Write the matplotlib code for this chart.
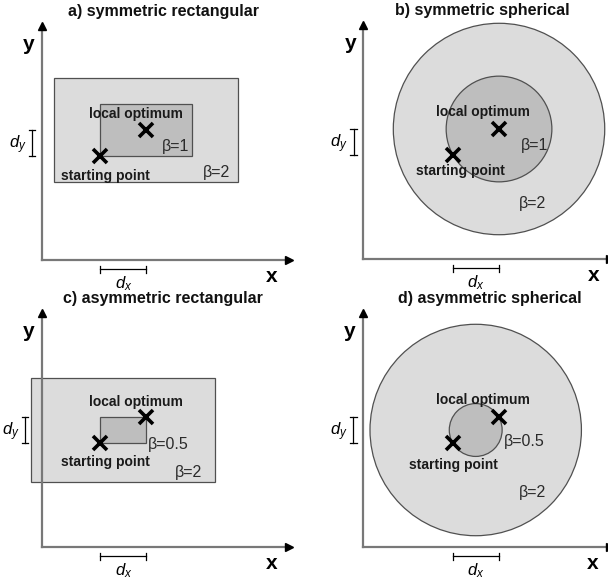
import numpy as np
import matplotlib
matplotlib.use('Agg')
import matplotlib.pyplot as plt
from matplotlib.patches import Rectangle, Circle

plt.rcParams['font.family'] = ['Liberation Sans', 'DejaVu Sans']
plt.rcParams['mathtext.fontset'] = 'custom'
plt.rcParams['mathtext.rm'] = 'Liberation Sans'
plt.rcParams['mathtext.it'] = 'Liberation Sans:italic'

# step sizes (one unit = d_y)
DX = 1.77
DY = 1.0

TITLES = ['a) symmetric rectangular', 'b) symmetric spherical',
          'c) asymmetric rectangular', 'd) asymmetric spherical']
SHAPES = ['rect', 'sphere', 'rect', 'sphere']
SYMMETRIC = [True, True, False, False]
START_X = [2.25, 3.45, 2.25, 3.45]
START_Y = [4.0, 4.0, 4.0, 4.0]
BETA_INNER = [1, 1, 0.5, 0.5]
BETA_OUTER = [2, 2, 2, 2]

# layout: axis origin inside each quadrant (pixels from left / bottom)
ORIGIN_PX = [(41.7, 30), (59.3, 31), (41.7, 33), (59.0, 33)]
QUAD = [(0.0, 0.5), (0.5, 0.5), (0.0, 0.0), (0.5, 0.0)]
UNIT_PX = 26.0
TITLE_X = [4.7, 4.57, 4.67, 4.88]
OPT_LABEL_OFF = [(-0.39, 0.62), (-0.62, 0.65), (-0.39, 0.58), (-0.62, 0.65)]
START_LABEL_OFF = [(0.22, -0.77), (0.27, -0.62), (0.22, -0.73), (0.01, -0.85)]
INNER_LABEL_POS = [(5.13, 4.35), (6.57, 4.35), (4.86, 3.96), (6.19, 4.04)]
OUTER_LABEL_POS = [(6.74, 3.38), (6.5, 2.15), (5.63, 2.88), (6.5, 2.1)]

W, H = 608, 580
fig = plt.figure(figsize=(W / 100, H / 100), dpi=100)

OUTER_FILL = '#dcdcdc'
INNER_FILL = '#bebebe'
EDGE = '#505050'
AXIS_GREY = '#787878'


def make_shape(kind, cx, cy, beta, fill):
    if kind == 'rect':
        hw, hh = beta * DX, beta * DY
        return Rectangle((cx - hw, cy - hh), 2 * hw, 2 * hh, facecolor=fill,
                         edgecolor=EDGE, lw=0.9)
    r = beta * np.hypot(DX, DY)
    return Circle((cx, cy), r, facecolor=fill, edgecolor=EDGE, lw=0.9)


for i in range(4):
    qx, qy = QUAD[i]
    ax = fig.add_axes([qx, qy, 0.5, 0.5])
    ox, oy = ORIGIN_PX[i]
    qw, qh = W / 2, H / 2
    ax.set_xlim(-ox / UNIT_PX, (qw - ox) / UNIT_PX)
    ax.set_ylim(-oy / UNIT_PX, (qh - oy) / UNIT_PX)
    ax.axis('off')

    sx, sy = START_X[i], START_Y[i]
    opx, opy = sx + DX, sy + DY
    if SYMMETRIC[i]:
        cx, cy = opx, opy
    else:
        cx, cy = (sx + opx) / 2, (sy + opy) / 2

    outer = make_shape(SHAPES[i], cx, cy, BETA_OUTER[i], OUTER_FILL)
    inner = make_shape(SHAPES[i], cx, cy, BETA_INNER[i], INNER_FILL)
    ax.add_patch(outer)
    ax.add_patch(inner)

    # coordinate axes with arrow heads
    ax.plot([0, 0], [0, 8.9], color=AXIS_GREY, lw=1.6, zorder=3, clip_on=False)
    ax.plot([0, 9.45], [0, 0], color=AXIS_GREY, lw=1.6, zorder=3, clip_on=False)
    ax.plot(0, 9.0, marker='^', ms=5.5, color='black', zorder=4, clip_on=False)
    ax.plot(9.5, 0, marker='>', ms=5.5, color='black', zorder=4, clip_on=False)
    ax.text(-0.5, 8.3, 'y', fontsize=15, fontweight='bold', ha='center', va='center')
    ax.text(8.85, -0.65, 'x', fontsize=15, fontweight='bold', ha='center', va='center')

    ax.text(TITLE_X[i], 9.54, TITLES[i], fontsize=11.5, fontweight='bold',
            ha='center', va='center', color='#111111')

    # step size bars
    if SHAPES[i] == 'rect':
        left_edge = cx - BETA_OUTER[i] * DX
    else:
        left_edge = cx - BETA_OUTER[i] * np.hypot(DX, DY)
    bx = min(-0.37, left_edge - 0.24)
    cap = 0.13
    ax.plot([bx, bx], [sy, sy + DY], color='black', lw=0.9)
    ax.plot([bx - cap, bx + cap], [sy, sy], color='black', lw=0.9)
    ax.plot([bx - cap, bx + cap], [sy + DY, sy + DY], color='black', lw=0.9)
    ax.text(bx - 0.22, sy + DY / 2 - 0.05, '$d_y$', fontsize=12, ha='right', va='center')

    by = -0.36
    ax.plot([sx, sx + DX], [by, by], color='black', lw=0.9, clip_on=False)
    ax.plot([sx, sx], [by - cap, by + cap], color='black', lw=0.9, clip_on=False)
    ax.plot([sx + DX, sx + DX], [by - cap, by + cap], color='black', lw=0.9, clip_on=False)
    ax.text(sx + DX / 2, by - 0.55, '$d_x$', fontsize=12, ha='center', va='center')

    # start and optimum
    ax.plot([sx, opx], [sy, opy], linestyle='none', marker='x', ms=10,
            mew=2.6, color='black', zorder=5)

    ox_off, oy_off = OPT_LABEL_OFF[i]
    ax.text(opx + ox_off, opy + oy_off, 'local optimum', fontsize=10,
            fontweight='bold', ha='center', va='center', color='#1a1a1a', zorder=6)
    sx_off, sy_off = START_LABEL_OFF[i]
    ax.text(sx + sx_off, sy + sy_off, 'starting point', fontsize=10,
            fontweight='bold', ha='center', va='center', color='#1a1a1a', zorder=6)

    ix, iy = INNER_LABEL_POS[i]
    ax.text(ix, iy, f'β={BETA_INNER[i]}', fontsize=11.5, ha='center',
            va='center', color='#2a2a2a', zorder=6)
    ux, uy = OUTER_LABEL_POS[i]
    ax.text(ux, uy, f'β={BETA_OUTER[i]}', fontsize=11.5, ha='center',
            va='center', color='#2a2a2a', zorder=6)

fig.savefig('out.png', dpi=100)
